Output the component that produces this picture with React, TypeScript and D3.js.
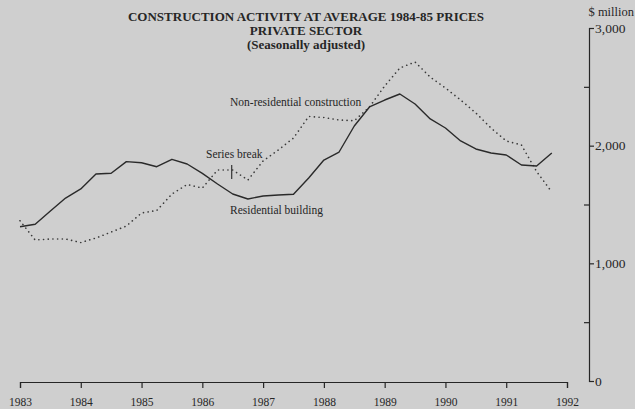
import React, { useEffect, useRef } from 'react';
import * as d3 from 'd3';

// quarterly observations, 1983 Q1 .. 1991 Q4 ($ million, 1984-85 prices)
const quarters = d3.range(36).map(i => 1983 + i / 4);
const residential = [
  1311, 1332, 1445, 1555, 1632, 1759, 1765, 1864, 1855, 1821, 1884, 1844,
  1765, 1674, 1589, 1547, 1572, 1581, 1587, 1725, 1878, 1946, 2167, 2329,
  2388, 2439, 2354, 2227, 2150, 2040, 1972, 1938, 1921, 1836, 1827, 1938,
];
const nonResidential = [
  1362, 1198, 1207, 1207, 1177, 1215, 1266, 1317, 1428, 1449, 1589, 1670,
  1640, 1793, 1793, 1708, 1870, 1963, 2065, 2248, 2239, 2218, 2212, 2329,
  2507, 2660, 2711, 2583, 2490, 2388, 2278, 2150, 2040, 2006, 1780, 1606,
];
const years = d3.range(1983, 1993);
const majorTicks = [0, 1000, 2000, 3000];
const minorTicks = [500, 1500, 2500];
const seriesBreak = 1986.5;

const titleLines = [
  'CONSTRUCTION ACTIVITY AT AVERAGE 1984-85 PRICES',
  'PRIVATE SECTOR',
  '(Seasonally adjusted)',
];

const W = 635;
const H = 409;
const serif = '"Liberation Serif", "DejaVu Serif", serif';

const App = () => {
  const svgRef = useRef<SVGSVGElement | null>(null);

  useEffect(() => {
    const svg = d3.select(svgRef.current);
    svg.selectAll('*').remove();

    const x = d3.scaleLinear().domain([1983, 1992]).range([20, 567]);
    const y = d3.scaleLinear().domain([0, 3000]).range([381, 28]);
    const ink = '#262626';

    svg.append('rect').attr('width', W).attr('height', H).attr('fill', '#cfcfcf');

    // title
    svg.append('g')
      .selectAll('text')
      .data(titleLines)
      .enter()
      .append('text')
      .attr('x', 306)
      .attr('y', (d, i) => 21 + i * 14)
      .attr('text-anchor', 'middle')
      .attr('font-family', serif)
      .attr('font-weight', 'bold')
      .attr('font-size', 13)
      .attr('fill', ink)
      .text(d => d);

    // x axis
    const gx = svg.append('g')
      .attr('transform', `translate(0,${y(0) + 1})`)
      .call(d3.axisBottom(x).tickValues(years).tickFormat(d3.format('d')).tickSize(6).tickSizeOuter(6).tickPadding(10));
    gx.selectAll('path, line').attr('stroke', ink).attr('stroke-width', 1.2);
    gx.selectAll('text')
      .attr('font-family', serif)
      .attr('font-size', 11.5)
      .attr('fill', ink);

    // right axis
    const gy = svg.append('g')
      .attr('transform', `translate(589,0)`)
      .call(d3.axisRight(y).tickValues(majorTicks).tickFormat(d3.format(',')).tickSize(5).tickSizeOuter(5).tickPadding(1));
    gy.selectAll('path, line').attr('stroke', ink).attr('stroke-width', 1.2);
    gy.selectAll('text')
      .attr('font-family', serif)
      .attr('font-size', 13.5)
      .attr('fill', ink);

    const gm = svg.append('g')
      .attr('transform', `translate(589,0)`)
      .call(d3.axisRight(y).tickValues(minorTicks).tickSize(-5).tickFormat(() => ''));
    gm.select('.domain').remove();
    gm.selectAll('line').attr('stroke', ink).attr('stroke-width', 1.2);

    svg.append('text')
      .attr('x', 634)
      .attr('y', 16)
      .attr('text-anchor', 'end')
      .attr('font-family', serif)
      .attr('font-size', 12.5)
      .attr('fill', ink)
      .text('$ million');

    // series
    const line = d3.line<number>()
      .x((d, i) => x(quarters[i]))
      .y(d => y(d));

    svg.append('path')
      .datum(nonResidential)
      .attr('d', line)
      .attr('fill', 'none')
      .attr('stroke', '#3a3a3a')
      .attr('stroke-width', 1.6)
      .attr('stroke-linecap', 'round')
      .attr('stroke-dasharray', '0.1 4.6');

    svg.append('path')
      .datum(residential)
      .attr('d', line)
      .attr('fill', 'none')
      .attr('stroke', '#2a2a2a')
      .attr('stroke-width', 1.4)
      .attr('stroke-linejoin', 'round');

    // series break marker
    const bIdx = quarters.indexOf(seriesBreak);
    const by = y(nonResidential[bIdx]);
    svg.append('line')
      .attr('x1', x(seriesBreak) - 1)
      .attr('x2', x(seriesBreak) - 1)
      .attr('y1', by - 5)
      .attr('y2', by + 9)
      .attr('stroke', ink)
      .attr('stroke-width', 1.1);

    const labels = [
      { text: 'Non-residential construction', x: 230, y: 106 },
      { text: 'Series break', x: 206, y: 158 },
      { text: 'Residential building', x: 230, y: 214 },
    ];
    svg.append('g')
      .selectAll('text')
      .data(labels)
      .enter()
      .append('text')
      .attr('x', d => d.x)
      .attr('y', d => d.y)
      .attr('font-family', serif)
      .attr('font-size', 11.5)
      .attr('fill', ink)
      .text(d => d.text);
  }, []);

  return (
    <div style={{ position: 'fixed', left: 0, top: 0, width: W, height: H }}>
      <svg ref={svgRef} width={W} height={H} viewBox={`0 0 ${W} ${H}`} style={{ display: 'block' }} />
    </div>
  );
};

export default App;
